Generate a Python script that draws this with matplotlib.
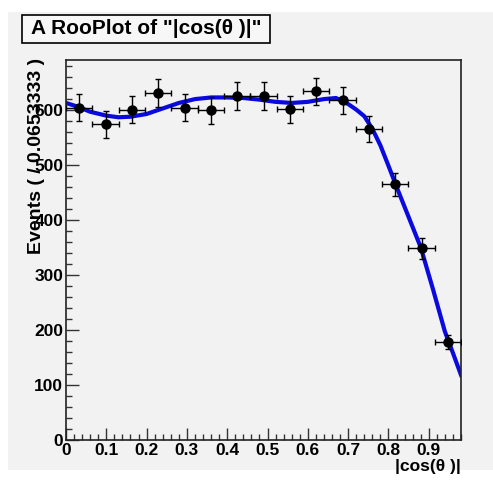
import numpy as np
import matplotlib
matplotlib.use("Agg")
import matplotlib.pyplot as plt
from matplotlib.patches import Rectangle
from matplotlib.ticker import MultipleLocator

plt.rcParams["font.family"] = ["Liberation Sans", "DejaVu Sans"]
plt.rcParams["font.weight"] = "bold"

# 15 bins of width 0.0653333 over [0, 0.98]
bin_width = 0.0653333
bin_centers = [0.0327, 0.0980, 0.1633, 0.2287, 0.2940, 0.3593, 0.4247, 0.4900,
               0.5553, 0.6207, 0.6860, 0.7513, 0.8167, 0.8820, 0.9473]
counts = [603, 573, 600, 630, 603, 599, 625, 625, 601, 633, 617, 564, 464, 348, 178]
errors = [24.6, 23.9, 24.5, 25.1, 24.6, 24.5, 25.0, 25.0, 24.5, 25.2, 24.8, 23.7, 21.5, 18.7, 13.3]

# fitted pdf curve
curve_x = [0.00, 0.03, 0.06, 0.10, 0.13, 0.16, 0.20, 0.24, 0.28, 0.32, 0.36, 0.40,
           0.44, 0.48, 0.52, 0.56, 0.60, 0.64, 0.67, 0.70, 0.72, 0.74, 0.76, 0.78,
           0.80, 0.82, 0.85, 0.88, 0.91, 0.94, 0.96, 0.98]
curve_y = [612, 605, 596, 589, 586, 587, 592, 602, 612, 619, 622, 622,
           621, 618, 614, 612, 614, 619, 621, 610, 600, 588, 565, 535,
           498, 460, 405, 350, 275, 197, 158, 118]

W, H = 493, 484
fig = plt.figure(figsize=(W / 100, H / 100), dpi=100)
fig.patch.set_facecolor("white")

bg = "#f2f2f2"
# grey canvas with a thin white margin
fig.patches.append(Rectangle((8 / W, 1 - 470 / H), 1 - 8 / W, (470 - 12) / H,
                             transform=fig.transFigure, facecolor=bg,
                             edgecolor="none", zorder=-5))

ax = fig.add_axes([66 / W, 1 - 440 / H, (461 - 66) / W, (440 - 60) / H])
ax.set_facecolor(bg)

ax.plot(curve_x, curve_y, color="#0a0ae0", lw=3.0, zorder=2)
ax.errorbar(bin_centers, counts, xerr=bin_width / 2, yerr=errors, fmt="o",
            color="black", ms=6.5, elinewidth=1.0, capsize=2.5, capthick=1.0,
            zorder=3)

ax.set_xlim(0, 0.98)
ax.set_ylim(0, 690)
ax.xaxis.set_minor_locator(MultipleLocator(0.02))
ax.yaxis.set_major_locator(MultipleLocator(100))
ax.yaxis.set_minor_locator(MultipleLocator(20))
ax.set_xticks(np.arange(0, 1.0, 0.1))
ax.set_xticklabels(["0", "0.1", "0.2", "0.3", "0.4", "0.5", "0.6", "0.7", "0.8", "0.9"])
ax.tick_params(which="both", direction="in", top=False, right=False,
               labelsize=12.5, width=1, color="#333333", pad=2)
ax.tick_params(which="major", length=9)
ax.tick_params(which="minor", length=4.5)
for lab in ax.get_xticklabels() + ax.get_yticklabels():
    lab.set_fontweight("bold")
for sp in ax.spines.values():
    sp.set_linewidth(1.2)
    sp.set_color("#222222")

fig.text(37 / W, 1 - 58 / H, "Events ( / 0.0653333 )", rotation=90,
         ha="center", va="top", fontsize=14, fontweight="bold")
fig.text(461 / W, 1 - 467 / H, "|cos(θ )|", ha="right", va="center",
         fontsize=12.5, fontweight="bold")

# title box
fig.patches.append(Rectangle((22 / W, 1 - 43 / H), (270 - 22) / W, (43 - 15) / H,
                             transform=fig.transFigure, facecolor="#f7f7f7",
                             edgecolor="black", lw=1.2, zorder=5))
fig.text(146 / W, 1 - 29 / H, 'A RooPlot of "|cos(θ )|"', ha="center",
         va="center", fontsize=15, fontweight="bold", zorder=6)

fig.savefig("out.png", dpi=100, facecolor=fig.get_facecolor())
